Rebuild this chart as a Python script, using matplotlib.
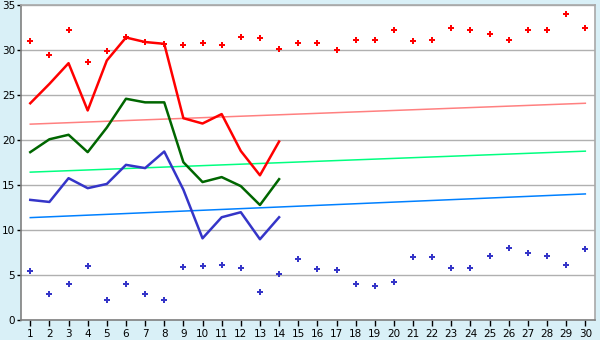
import matplotlib
matplotlib.use("Agg")
import matplotlib.pyplot as plt
import numpy as np

days = list(range(1, 31))
line_days = list(range(1, 15))

red_pts = [31.0, 29.44, 32.2, 28.67, 29.9, 31.44, 30.9, 30.7, 30.55, 30.78,
           30.55, 31.44, 31.33, 30.1, 30.78, 30.78, 30.0, 31.1, 31.1, 32.2,
           31.0, 31.1, 32.44, 32.2, 31.78, 31.1, 32.2, 32.2, 34.0, 32.44]
blue_pts = [5.48, 2.89, 4.0, 6.0, 2.22, 4.0, 2.89, 2.22, 5.89, 6.0,
            6.11, 5.78, 3.11, 5.11, 6.78, 5.67, 5.56, 4.0, 3.78, 4.22,
            7.0, 7.0, 5.78, 5.78, 7.11, 8.0, 7.44, 7.11, 6.11, 7.89]

red_line = [24.1, 26.25, 28.55, 23.3, 28.85, 31.4, 30.9, 30.7, 22.44, 21.85,
            22.9, 18.8, 16.1, 19.85]
green_line = [18.67, 20.1, 20.6, 18.67, 21.4, 24.6, 24.2, 24.2, 17.55, 15.35,
              15.9, 14.9, 12.8, 15.67]
blue_line = [13.37, 13.14, 15.78, 14.67, 15.14, 17.26, 16.9, 18.74, 14.5, 9.1,
             11.44, 12.0, 9.0, 11.44]

trend_x = [1, 30]
trend_red = [21.78, 24.1]
trend_green = [16.45, 18.78]
trend_blue = [11.4, 14.03]

y_ticks = [0, 5, 10, 15, 20, 25, 30, 35]

fig = plt.figure(figsize=(6, 3.4), dpi=100, facecolor="#d9f0f7")
ax = fig.add_axes([0.0345, 0.058, 0.957, 0.927])
ax.set_facecolor("white")

ax.set_xlim(0.5, 30.5)
ax.set_ylim(0, 35)
ax.set_yticks(y_ticks)
ax.set_xticks(days)
ax.yaxis.grid(True, color="#b0b0b0", linewidth=1)
ax.set_axisbelow(True)

ax.plot(trend_x, trend_red, color="#ff8080", linewidth=1.1)
ax.plot(trend_x, trend_green, color="#00ff80", linewidth=1.1)
ax.plot(trend_x, trend_blue, color="#0080ff", linewidth=1.1)

ax.plot(line_days, red_line, color="#ff0000", linewidth=1.8)
ax.plot(line_days, green_line, color="#006600", linewidth=1.8)
ax.plot(line_days, blue_line, color="#3535c8", linewidth=1.8)

ax.plot(days, red_pts, linestyle="none", marker="P", markersize=5,
        color="#ff0000", markeredgewidth=0)
ax.plot(days, blue_pts, linestyle="none", marker="P", markersize=5,
        color="#3535c8", markeredgewidth=0)

for s in ax.spines.values():
    s.set_color("#a8a8a8")
    s.set_linewidth(1.2)
ax.spines["left"].set_color("#808080")
ax.spines["bottom"].set_color("#808080")

ax.tick_params(axis="both", labelsize=7.5, colors="black", length=4,
               width=1, pad=2)
ax.tick_params(axis="y", length=3, pad=1)

fig.savefig("out.png", dpi=100, facecolor=fig.get_facecolor())
